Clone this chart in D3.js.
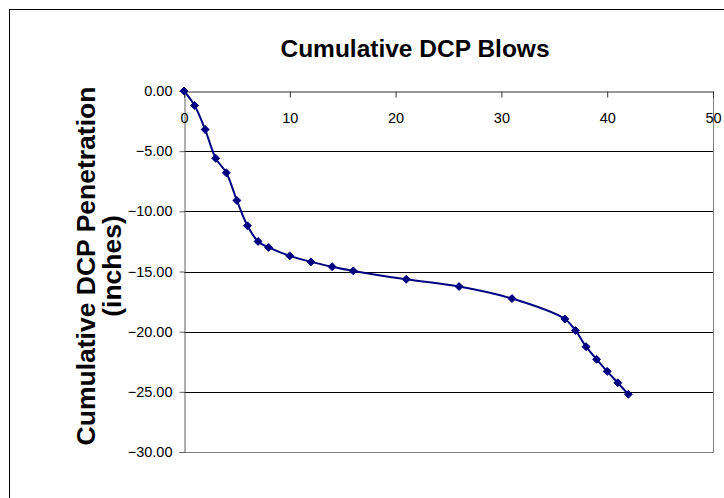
<!DOCTYPE html>
<html>
<head>
<meta charset="utf-8">
<script src="https://cdn.jsdelivr.net/npm/d3@7"></script>
<style>
  body { margin: 0; background: #fff; }
  svg { display: block; font-family: Arial, "Liberation Sans", sans-serif; }
</style>
</head>
<body>
<svg id="chart"></svg>
<script>
// cumulative blows vs cumulative penetration (inches)
const blows = [0, 1, 2, 3, 4, 5, 6, 7, 8, 10, 12, 14, 16, 21, 26, 31, 36, 37, 38, 39, 40, 41, 42]
const penetration = [0, -1.2, -3.2, -5.6, -6.8, -9.1, -11.2, -12.5, -13.0, -13.7, -14.2, -14.6, -14.95,
    -15.65, -16.25, -17.25, -18.95, -19.9, -21.25, -22.3, -23.3, -24.25, -25.2]
const xTicks = [0, 10, 20, 30, 40, 50]
const yTicks = [0, -5, -10, -15, -20, -25, -30]

const width = 724
const height = 498
const margin = { top: 91, right: 11, bottom: 46, left: 184 }

const svg = d3.select('#chart').attr('width', width).attr('height', height)

// outer chart border (runs off the bottom/right of the frame)
svg.append('rect')
    .attr('x', 9.5).attr('y', 9.5)
    .attr('width', width).attr('height', height)
    .attr('fill', 'none').attr('stroke', '#000').attr('stroke-width', 1)

const x = d3.scaleLinear().domain([0, 50]).range([margin.left, width - margin.right])
const y = d3.scaleLinear().domain([0, -30]).range([margin.top, height - margin.bottom])

// gridlines
svg.append('g')
    .selectAll('line')
    .data(yTicks.slice(1, -1))
    .enter()
    .append('line')
    .attr('x1', x(0)).attr('x2', x(50))
    .attr('y1', (d) => Math.round(y(d)) + 0.5)
    .attr('y2', (d) => Math.round(y(d)) + 0.5)
    .attr('stroke', '#000')

// plot area border right + bottom
svg.append('path')
    .attr('d', `M${x(50) + 0.5},${y(0)}V${Math.round(y(-30)) + 0.5}H${x(0)}`)
    .attr('fill', 'none')
    .attr('stroke', '#808080')

// y axis
const yAxis = svg.append('g')
    .attr('transform', `translate(${x(0) + 0.5},0)`)
    .call(d3.axisLeft(y).tickValues(yTicks).tickSize(5).tickPadding(7).tickFormat(d3.format('.2f')))
yAxis.select('.domain').attr('stroke', '#606060')
yAxis.selectAll('.tick line').attr('stroke', '#606060')
yAxis.selectAll('text')
    .attr('font-size', 14.5).attr('fill', '#000')
    .attr('font-family', 'Arial, Liberation Sans, sans-serif')

// x axis along the top (y = 0), labels below the line
const xAxis = svg.append('g')
    .attr('transform', `translate(0,${y(0) + 0.5})`)
    .call(d3.axisBottom(x).tickValues(xTicks).tickSizeOuter(0).tickSize(6).tickPadding(0).tickFormat(d3.format('d')))
xAxis.select('.domain').attr('stroke', '#333')
xAxis.selectAll('.tick line').attr('stroke', '#333')
xAxis.selectAll('text')
    .attr('y', 31.5).attr('dy', null)
    .attr('font-size', 14.5).attr('fill', '#000')
    .attr('font-family', 'Arial, Liberation Sans, sans-serif')

// series
const pts = blows.map((b, i) => [b, penetration[i]])
const line = d3.line()
    .x((d) => x(d[0]))
    .y((d) => y(d[1]))
    .curve(d3.curveCatmullRom.alpha(0.5))

svg.append('path')
    .datum(pts)
    .attr('fill', 'none')
    .attr('stroke', '#000080')
    .attr('stroke-width', 2)
    .attr('d', line)

svg.selectAll('.marker')
    .data(pts)
    .enter()
    .append('path')
    .attr('class', 'marker')
    .attr('d', d3.symbol().type(d3.symbolDiamond2).size(40))
    .attr('transform', (d) => `translate(${x(d[0])},${y(d[1])})`)
    .attr('fill', '#000080')
    .attr('stroke', '#000080')
    .attr('stroke-width', 1)

// title
svg.append('text')
    .attr('x', 415).attr('y', 57)
    .attr('text-anchor', 'middle')
    .attr('font-size', 24.5).attr('font-weight', 'bold')
    .text('Cumulative DCP Blows')

// y title, two lines
const yt = svg.append('text')
    .attr('transform', `translate(95,266) rotate(-90)`)
    .attr('text-anchor', 'middle')
    .attr('font-size', 26.5).attr('font-weight', 'bold')
yt.append('tspan').attr('x', 0).attr('y', 0).text('Cumulative DCP Penetration')
yt.append('tspan').attr('x', 0).attr('y', 26).text('(inches)')
</script>
</body>
</html>
